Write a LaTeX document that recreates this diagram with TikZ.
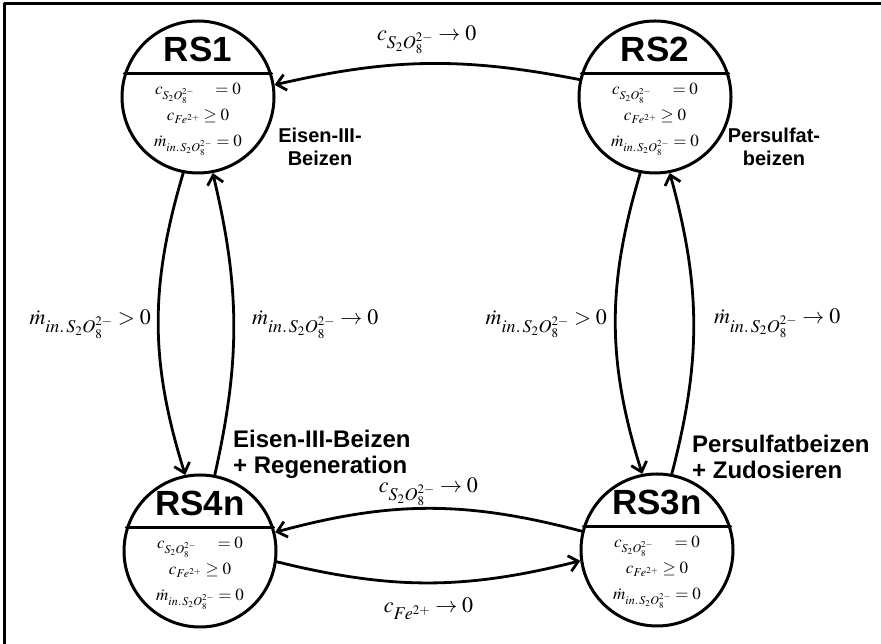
\documentclass[tikz,border=0pt]{standalone}
\usepackage{mathptmx}
\usepackage[no-math]{fontspec}
\setsansfont{Liberation Sans}
\usetikzlibrary{arrows.meta}
\DeclareMathSizes{17}{17}{12}{9}
\DeclareMathSizes{22}{22}{18}{13}
\tikzset{
  state/.style={circle, draw, line width=3pt, minimum size=152pt, inner sep=0pt},
  title/.style={font=\fontsize{35}{40}\selectfont\sffamily\bfseries},
  cond/.style={font=\fontsize{17}{26}\selectfont, align=center, inner sep=0pt},
  link/.style={line width=2.8pt, -{Straight Barb[length=9pt,width=16pt]}},
  note/.style={font=\fontsize{20}{23}\selectfont\sffamily\bfseries, align=center, inner sep=0pt},
  bignote/.style={font=\fontsize{24}{26}\selectfont\sffamily\bfseries, align=left, inner sep=0pt},
  rate/.style={font=\fontsize{22}{26}\selectfont, inner sep=0pt}
}
\newcommand{\condrows}{$c_{S_2O_8^{2-}}\quad=0$\\ $c_{Fe^{2+}}\geq 0$\\ $\dot{m}_{in.\,S_2O_8^{2-}}=0$}
\begin{document}
\begin{tikzpicture}[x=1pt, y=1pt, line join=round, line cap=round]
  \useasboundingbox (0,0) rectangle (881,644);
  \draw[line width=3pt] (4,0) -- (4,640) -- (881,640);
  % the four states
  \foreach \n/\p/\t in {rs1/{(198,547)}/RS1, rs2/{(655,547)}/RS2, rs4n/{(200,93)}/RS4n, rs3n/{(657,94)}/RS3n}{
    \node[state] (\n) at \p {};
    \draw[line width=3pt] (\n.162) -- (\n.18);
    \node[title] (\n-t) at ([yshift=48pt]\n.center) {\t};
    \node[cond] (\n-c) at ([yshift=-22pt]\n.center) {\condrows};
  }
  % transitions
  \draw[link] (rs2.167) to[bend right=12] node[rate, above=8pt] (lbl-top) {$c_{S_2O_8^{2-}}\to 0$} (rs1.9);
  \draw[link] (rs1.259) to[bend right=17] node[rate, left=6pt] (lbl-a) {$\dot{m}_{in.\,S_2O_8^{2-}}>0$} (rs4n.101);
  \draw[link] (rs4n.79) to[bend right=13] node[rate, right=17pt] (lbl-b) {$\dot{m}_{in.\,S_2O_8^{2-}}\to 0$} (rs1.281);
  \draw[link] (rs2.259) to[bend right=17] node[rate, left=7pt] (lbl-c) {$\dot{m}_{in.\,S_2O_8^{2-}}>0$} (rs3n.101);
  \draw[link] (rs3n.79) to[bend right=15] node[rate, right=19pt] (lbl-d) {$\dot{m}_{in.\,S_2O_8^{2-}}\to 0$} (rs2.281);
  \draw[link] (rs3n.166) to[bend right=15] node[rate, above=1pt] (lbl-e) {$c_{S_2O_8^{2-}}\to 0$} (rs4n.14);
  \draw[link] (rs4n.-8) to[bend right=14] node[rate, below=14pt] (lbl-f) {$c_{Fe^{2+}}\to 0$} (rs3n.188);
  % process names
  \node[note] (lbl-eisen) at (320,497) {Eisen-III-\\Beizen};
  \node[note] (lbl-pers) at (774,497) {Persulfat-\\beizen};
  \node[bignote, anchor=west] (lbl-eisenreg) at (233,190) {Eisen-III-Beizen\\+ Regeneration};
  \node[bignote, anchor=west] (lbl-persdos) at (692,187) {Persulfatbeizen\\+ Zudosieren};
\end{tikzpicture}
\end{document}
